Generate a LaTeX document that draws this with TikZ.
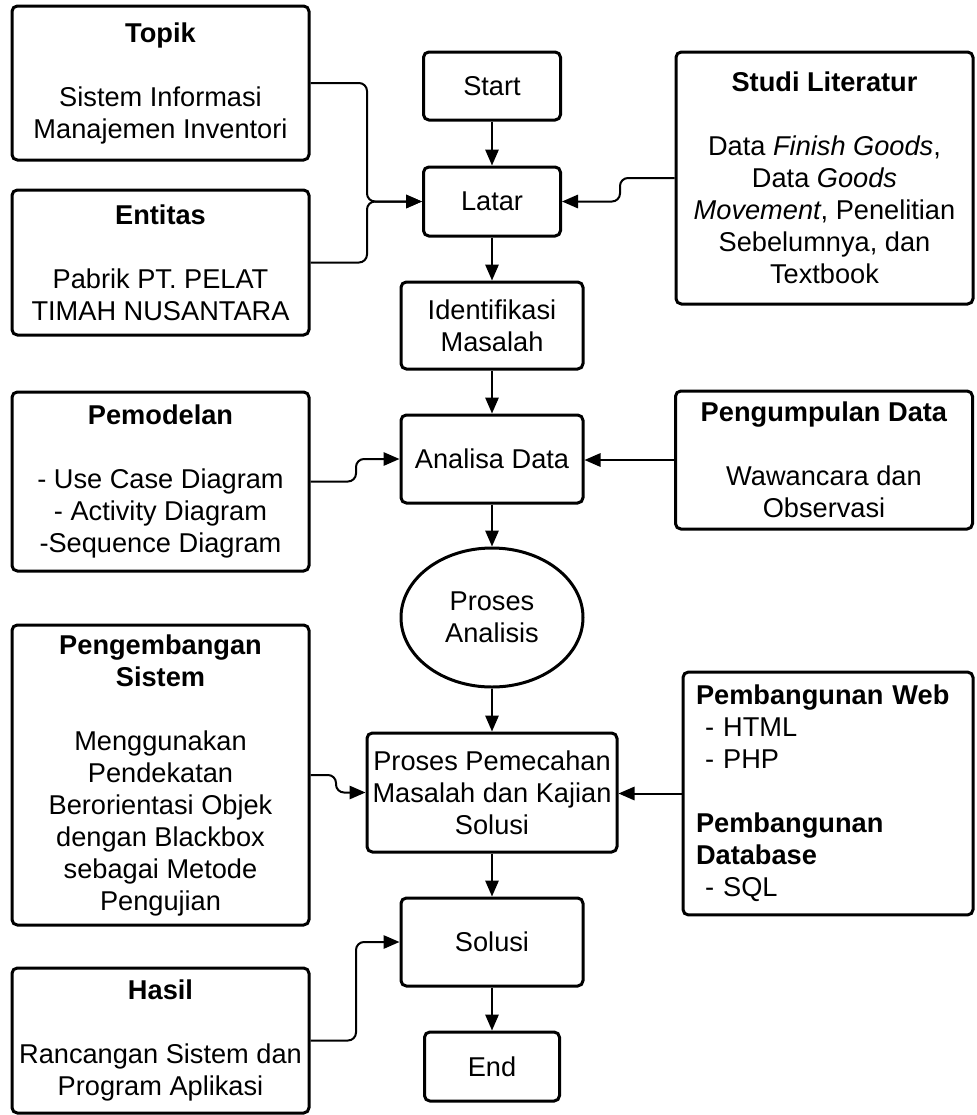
\documentclass[tikz,border=0pt]{standalone}
\usepackage{fontspec}
\setmainfont{Liberation Sans}
\usetikzlibrary{arrows.meta,shapes.geometric}

\tikzset{
  box/.style={draw, line width=2.25, rounded corners=4, align=center, inner sep=0.75pt, font=\fontsize{20.4}{24}\selectfont},
  sidebox/.style={box, minimum width=222.75pt},
  midbox/.style={box, minimum width=136.5pt, minimum height=66pt},
  conn/.style={line width=1.5, rounded corners=6, -{Triangle[length=12pt,width=10pt]}},
}

\begin{document}
\begin{tikzpicture}[x=0.75pt,y=0.75pt,yscale=-1,xscale=1]
\useasboundingbox (0,0) rectangle (976,1115);

%Shape: Rectangle, left column
\node [sidebox, minimum height=115.5pt] (topik) at (160.5,83) {\textbf{Topik}\\[24pt]Sistem Informasi\\Manajemen Inventori};
\node [sidebox, minimum height=108.75pt] (entitas) at (160.5,262.5) {\textbf{Entitas}\\[24pt]Pabrik PT. PELAT\\TIMAH NUSANTARA};
\node [sidebox, minimum height=134.25pt] (pemodelan) at (160.5,481.5) {\textbf{Pemodelan}\\[24pt]- Use Case Diagram\\- Activity Diagram\\-Sequence Diagram};
\node [sidebox, minimum height=225pt] (pengembangan) at (160.5,775) {\textbf{Pengembangan}\\\textbf{Sistem}\\[24pt]Menggunakan\\Pendekatan\\Berorientasi Objek\\dengan Blackbox\\sebagai Metode\\Pengujian};
\node [sidebox, minimum height=108.75pt] (hasil) at (160.5,1040.5) {\textbf{Hasil}\\[24pt]Rancangan Sistem dan\\Program Aplikasi};

%Shape: Rectangle, middle column
\node [box, minimum width=102.75pt, minimum height=51pt] (start) at (492,86) {Start};
\node [box, minimum width=102.75pt, minimum height=51.75pt] (latar) at (492,201.5) {Latar};
\node [midbox, minimum height=65.25pt] (identifikasi) at (492,325.5) {Identifikasi\\Masalah};
\node [midbox] (analisa) at (492,459) {Analisa Data};
%Shape: Ellipse
\node [box, ellipse, rounded corners=0, minimum width=136.5pt, minimum height=104.25pt] (proses) at (492,617.5) {Proses\\Analisis};
\node [box, minimum width=187.5pt, minimum height=89.25pt] (pemecahan) at (492,792.5) {Proses Pemecahan\\Masalah dan Kajian\\Solusi};
\node [midbox] (solusi) at (492,942) {Solusi};
\node [box, minimum width=101.25pt, minimum height=51.75pt] (stop) at (492,1066.5) {End};

%Shape: Rectangle, right column
\node [sidebox, minimum height=189pt] (studi) at (824.5,178) {\textbf{Studi Literatur}\\[24pt]Data \textit{Finish Goods},\\Data \textit{Goods}\\\textit{Movement}, Penelitian\\Sebelumnya, dan\\Textbook};
\node [sidebox, minimum height=103.5pt] (pengumpulan) at (824,460) {\textbf{Pengumpulan Data}\\[24pt]Wawancara dan\\Observasi};
\node [box, align=left, text width=198pt, inner sep=9.75pt, minimum height=176.25pt] (pembangunan) at (828,793.5) {\textbf{Pembangunan Web}\\\ - HTML\\\ - PHP\\[24pt]\textbf{Pembangunan}\\\textbf{Database}\\\ - SQL};

%Straight Lines, main flow
\foreach \a/\b in {start/latar, latar/identifikasi, identifikasi/analisa, analisa/proses, proses/pemecahan, pemecahan/solusi, solusi/stop}
  \draw [conn] (\a.south) -- (\b.north);

%Straight Lines, side inputs
\coordinate (jtopik) at (367,201.5);
\coordinate (jstudi) at (620,201.5);
\coordinate (jpemodelan) at (356,459);
\coordinate (jpengembangan) at (336,792.5);
\coordinate (jhasil) at (356,942);
\draw [conn] (topik.east) -| (jtopik) -- (latar.west);
\draw [conn] (entitas.east) -| (jtopik) -- (latar.west);
\draw [conn] (studi.west) -| (jstudi) -- (latar.east);
\draw [conn] (pemodelan.east) -| (jpemodelan) -- (analisa.west);
\draw [conn] (pengumpulan.west) -- (analisa.east |- pengumpulan.west);
\draw [conn] (pengembangan.east) -| (jpengembangan) -- (pemecahan.west);
\draw [conn] (pembangunan.west) -- (pemecahan.east |- pembangunan.west);
\draw [conn] (hasil.east) -| (jhasil) -- (solusi.west);

\end{tikzpicture}
\end{document}
